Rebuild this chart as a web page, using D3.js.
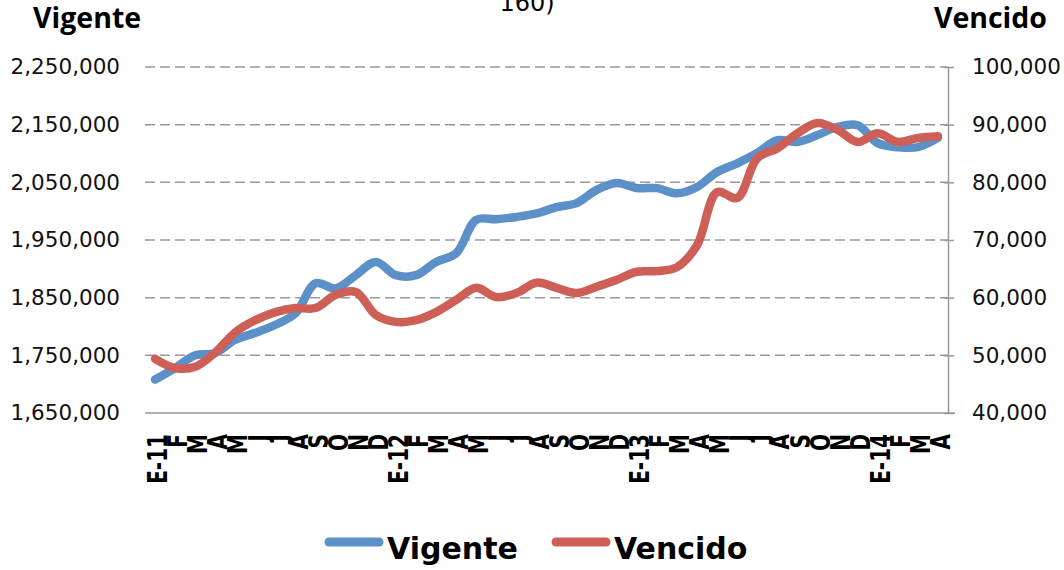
<!DOCTYPE html>
<html>
<head>
<meta charset="utf-8">
<script src="https://cdn.jsdelivr.net/npm/d3@7"></script>
<style>
  body { margin: 0; background: #fff; }
  svg { display: block; }
</style>
</head>
<body>
<svg id="chart"></svg>
<script>
// month labels, Jan 2011 .. Apr 2014
let months = ["E-11","F","M","A","M","J","J","A","S","O","N","D",
              "E-12","F","M","A","M","J","J","A","S","O","N","D",
              "E-13","F","M","A","M","J","J","A","S","O","N","D",
              "E-14","F","M","A"];

let vigente = [1708000,1728000,1750000,1754000,1777000,1789000,1803000,1823000,1875000,1866000,
               1889000,1912000,1889000,1889000,1912000,1927000,1985000,1986000,1990000,1996000,
               2007000,2014000,2037000,2049000,2040000,2040000,2031000,2042000,2068000,2083000,
               2101000,2123000,2120000,2132000,2146000,2149000,2118000,2111000,2111000,2127000];

let vencido = [49400,47800,48000,50500,54000,56100,57500,58200,58200,60500,
               61000,57000,55800,56100,57500,59600,61700,60100,60800,62600,
               61700,60800,61900,63100,64500,64600,65300,69100,78300,77300,
               84200,85900,88500,90300,89100,87000,88500,87000,87700,88000];

let leftTicks = [1650000,1750000,1850000,1950000,2050000,2150000,2250000];
let rightTicks = [40000,50000,60000,70000,80000,90000,100000];

let width = 1064;
let height = 570;
let plotLeft = 145, plotRight = 948, plotTop = 67, plotBottom = 413;

let svg = d3.select("#chart").attr("width", width).attr("height", height);

let xScale = d3.scaleBand().domain(d3.range(months.length)).range([plotLeft, plotRight]);
let yLeft = d3.scaleLinear().domain([1650000, 2250000]).range([plotBottom, plotTop]);
let yRight = d3.scaleLinear().domain([40000, 100000]).range([plotBottom, plotTop]);
let cx = (i) => xScale(i) + xScale.bandwidth() / 2;
let fmt = d3.format(",");

// title, cut by the top edge as in the original
svg.append("text")
  .attr("x", 527).attr("y", 11)
  .attr("text-anchor", "middle")
  .style("font-family", "DejaVu Sans")
  .style("font-size", "24px")
  .text("160)");

// gridlines
svg.append("g")
  .selectAll("line")
  .data(leftTicks.slice(1))
  .enter()
  .append("line")
  .attr("x1", plotLeft).attr("x2", plotRight)
  .attr("y1", (d) => yLeft(d)).attr("y2", (d) => yLeft(d))
  .attr("stroke", "#999")
  .attr("stroke-width", 1.5)
  .attr("stroke-dasharray", "10,5");

// left axis (no line)
let leftAxis = svg.append("g")
  .attr("transform", "translate(" + plotLeft + ",0)")
  .call(d3.axisLeft(yLeft).tickValues(leftTicks).tickFormat(fmt).tickSize(0).tickPadding(25));
leftAxis.select(".domain").remove();
leftAxis.selectAll("text")
  .style("font-family", "DejaVu Sans")
  .style("font-size", "21.5px")
  .attr("fill", "#111");

// right axis
let rightAxis = svg.append("g")
  .attr("transform", "translate(" + plotRight + ",0)")
  .call(d3.axisRight(yRight).tickValues(rightTicks).tickFormat(fmt).tickSize(6).tickSizeOuter(0).tickPadding(18));
rightAxis.select(".domain").attr("stroke", "#999").attr("stroke-width", 1.5);
rightAxis.selectAll(".tick line").attr("stroke", "#999").attr("stroke-width", 1.5).attr("x1", -4);
rightAxis.selectAll("text")
  .style("font-family", "DejaVu Sans")
  .style("font-size", "21.5px")
  .attr("fill", "#111");

// bottom axis line
svg.append("line")
  .attr("x1", plotLeft).attr("x2", plotRight + 7)
  .attr("y1", plotBottom).attr("y2", plotBottom)
  .attr("stroke", "#999")
  .attr("stroke-width", 1.5);

// x labels, rotated and stretched across to look like the wide bold original
svg.append("g")
  .selectAll("text")
  .data(months)
  .enter()
  .append("text")
  .attr("transform", (d, i) => "translate(" + (cx(i) + 3) + "," + 434 + ") rotate(-90) scale(1,1.35)")
  .attr("text-anchor", "end")
  .attr("dominant-baseline", "central")
  .style("font-family", "DejaVu Sans")
  .style("font-weight", "bold")
  .style("font-size", "20px")
  .attr("fill", "#000")
  .text((d) => d);

// lines
let lineVig = d3.line()
  .x((d, i) => cx(i))
  .y((d) => yLeft(d))
  .curve(d3.curveCatmullRom);

let lineVen = d3.line()
  .x((d, i) => cx(i))
  .y((d) => yRight(d))
  .curve(d3.curveCatmullRom);

svg.append("path")
  .attr("d", lineVig(vigente))
  .attr("fill", "none")
  .attr("stroke", "#5b91c8")
  .attr("stroke-width", 8.5)
  .attr("stroke-linecap", "round")
  .attr("stroke-linejoin", "round");

svg.append("path")
  .attr("d", lineVen(vencido))
  .attr("fill", "none")
  .attr("stroke", "#cd5f57")
  .attr("stroke-width", 8.5)
  .attr("stroke-linecap", "round")
  .attr("stroke-linejoin", "round");

// axis titles
svg.append("text")
  .attr("x", 33).attr("y", 28)
  .style("font-family", "Open Sans")
  .style("font-weight", "bold")
  .style("font-size", "28.5px")
  .text("Vigente");

svg.append("text")
  .attr("x", 1047).attr("y", 28)
  .attr("text-anchor", "end")
  .style("font-family", "Open Sans")
  .style("font-weight", "bold")
  .style("font-size", "28.5px")
  .text("Vencido");

// legend
let legend = [
  { name: "Vigente", color: "#5b91c8", x: 325 },
  { name: "Vencido", color: "#cd5f57", x: 552 }
];
let lg = svg.append("g").selectAll("g").data(legend).enter().append("g");
lg.append("line")
  .attr("x1", (d) => d.x + 4).attr("x2", (d) => d.x + 54)
  .attr("y1", 542).attr("y2", 542)
  .attr("stroke", (d) => d.color)
  .attr("stroke-width", 9)
  .attr("stroke-linecap", "round");
lg.append("text")
  .attr("x", (d) => d.x + 62).attr("y", 559)
  .style("font-family", "DejaVu Sans")
  .style("font-weight", "bold")
  .style("font-size", "30px")
  .text((d) => d.name);
</script>
</body>
</html>
